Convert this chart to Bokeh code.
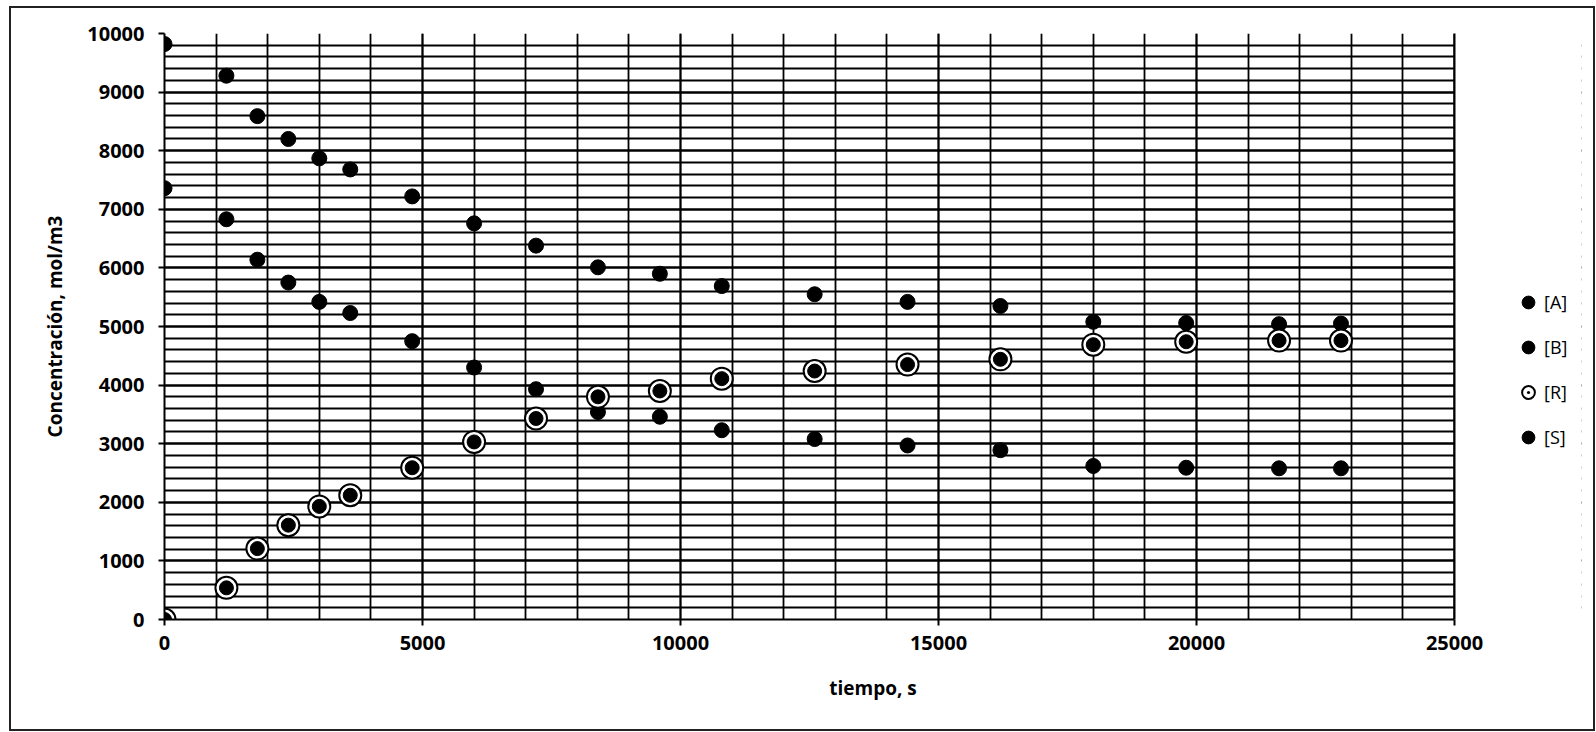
from bokeh.plotting import figure
from bokeh.layouts import column
from bokeh.models import (SingleIntervalTicker, Legend, LegendItem, Range1d,
                          ColumnDataSource, BoxAnnotation, Span)
from bokeh.embed import file_html
from bokeh.resources import INLINE

# ---- data ----
tiempo = [0, 1200, 1800, 2400, 3000, 3600, 4800, 6000, 7200, 8400, 9600,
          10800, 12600, 14400, 16200, 18000, 19800, 21600, 22800]
conc_A = [9820, 9280, 8590, 8200, 7870, 7680, 7220, 6760, 6380, 6010, 5900,
          5690, 5550, 5420, 5350, 5080, 5060, 5040, 5050]
conc_B = [7360, 6830, 6140, 5750, 5420, 5230, 4750, 4300, 3930, 3540, 3460,
          3230, 3080, 2970, 2890, 2620, 2590, 2580, 2580]
conc_R = [0, 540, 1210, 1610, 1930, 2120, 2590, 3030, 3430, 3800, 3900,
          4110, 4240, 4350, 4440, 4690, 4740, 4760, 4760]
conc_S = [0, 540, 1210, 1610, 1930, 2120, 2590, 3030, 3430, 3800, 3900,
          4110, 4240, 4350, 4440, 4690, 4740, 4760, 4760]
labels = ["[A]", "[B]", "[R]", "[S]"]
X_MAX, Y_MAX = 25000, 10000

FONT = "Open Sans"
# figure sits inside a 2px border drawn at page x=9..1595, y=6..731
W, H = 1582, 721
FL = 153            # frame left (figure coords)  -> page 164
FR_DATA = 1290      # px width of 0..25000          -> page 1454
FRAME_R = 1570      # extended frame right (room for legend)
FT, FB = 25, 611    # frame top / bottom           -> page 33 / 619
x_end = X_MAX * (FRAME_R - FL) / FR_DATA

p = figure(width=W, height=H, output_backend="svg", toolbar_location=None,
           x_range=Range1d(0, x_end), y_range=Range1d(0, Y_MAX),
           min_border_left=FL, min_border_right=W - FRAME_R,
           min_border_top=FT, min_border_bottom=H - FB,
           background_fill_color="white", border_fill_color="white")

p.xaxis.ticker = SingleIntervalTicker(interval=5000, num_minor_ticks=5)
p.yaxis.ticker = SingleIntervalTicker(interval=1000, num_minor_ticks=5)
p.xaxis.bounds = (0, X_MAX)

for ax in (p.xaxis[0], p.yaxis[0]):
    ax.axis_line_color = "black"
    ax.axis_line_width = 2
    ax.major_tick_line_color = "black"
    ax.major_tick_line_width = 2
    ax.major_tick_in = 0
    ax.major_tick_out = 6
    ax.minor_tick_line_color = None
    ax.major_label_text_font = FONT
    ax.major_label_text_font_size = "20px"
    ax.major_label_text_font_style = "bold"
    ax.major_label_text_color = "black"
    ax.axis_label_text_font = FONT
    ax.axis_label_text_font_size = "19px"
    ax.axis_label_text_font_style = "bold"
    ax.axis_label_text_color = "black"

p.xaxis.axis_label = "tiempo, s"
p.yaxis.axis_label = "Concentración, mol/m3"
p.xaxis.major_label_standoff = 10
p.yaxis.major_label_standoff = 14
p.xaxis.axis_label_standoff = 22
p.yaxis.axis_label_standoff = 16

for g in (p.xgrid[0], p.ygrid[0]):
    g.grid_line_color = "black"
    g.grid_line_width = 1.8
    g.minor_grid_line_color = "black"
    g.minor_grid_line_width = 1.8

p.outline_line_color = None

# blank the legend area to the right of the plot area
cover = BoxAnnotation(left=X_MAX, fill_color="white", fill_alpha=1,
                      line_color=None)
p.add_layout(cover)
p.add_layout(Span(location=X_MAX, dimension="height", line_color="black",
                  line_width=2))

src = ColumnDataSource(dict(t=tiempo, A=conc_A, B=conc_B, R=conc_R, S=conc_S))

rA = p.scatter("t", "A", source=src, marker="circle", size=15,
               fill_color="black", line_color="black")
rB = p.scatter("t", "B", source=src, marker="circle", size=15,
               fill_color="black", line_color="black")
rR = p.scatter("t", "R", source=src, marker="circle_dot", size=22,
               fill_color="white", line_color="black", line_width=2)
rS = p.scatter("t", "S", source=src, marker="circle", size=14,
               fill_color="black", line_color="black")

legend = Legend(items=[LegendItem(label=labels[0], renderers=[rA]),
                       LegendItem(label=labels[1], renderers=[rB]),
                       LegendItem(label=labels[2], renderers=[rR]),
                       LegendItem(label=labels[3], renderers=[rS])],
                location=(1348, 166), glyph_width=32, glyph_height=32,
                label_height=32, spacing=13, padding=0, margin=0,
                label_standoff=0,
                label_text_font=FONT, label_text_font_size="18px",
                label_text_color="black", border_line_color=None,
                background_fill_alpha=0)
p.add_layout(legend)

page = column(p, styles={"border": "2px solid #222",
                         "margin-left": "9px", "margin-top": "6px"})

open("out.html", "w").write(file_html(page, INLINE))
